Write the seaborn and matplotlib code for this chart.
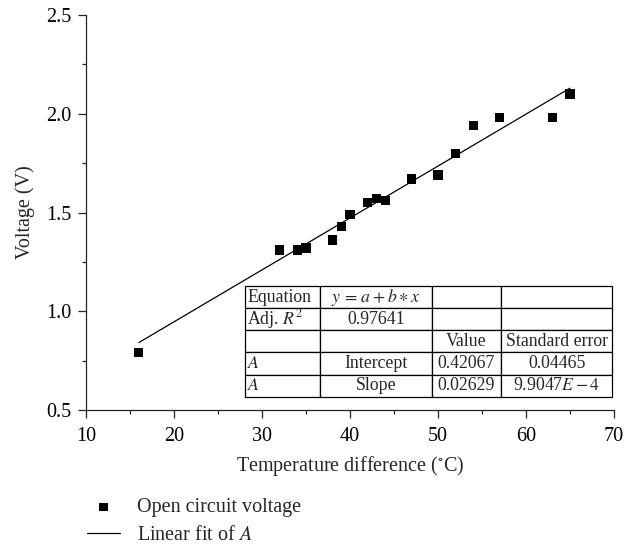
import numpy as np
import pandas as pd
import matplotlib
matplotlib.use("Agg")
import matplotlib.pyplot as plt
import seaborn as sns

# ---- data ----
temp_diff = [16, 32, 34, 35, 38, 39, 40, 42, 43, 44, 47, 50, 52, 54, 57, 63, 65]
voltage = [0.79, 1.31, 1.31, 1.32, 1.36, 1.43, 1.49, 1.55, 1.57, 1.56,
           1.67, 1.69, 1.80, 1.94, 1.98, 1.98, 2.10]
fit_intercept = 0.42067
fit_slope = 0.02629
fit_range = [16, 65]
x_ticks = [10, 20, 30, 40, 50, 60, 70]
y_ticks = [0.5, 1.0, 1.5, 2.0, 2.5]
table_rows = [
    ["Equation", "$y\\,=\\,a+b\\ast x$", "", ""],
    ["Adj. $R^2$", "0.97641", "", ""],
    ["", "", "Value", "Standard error"],
    ["$A$", "Intercept", "0.42067", "0.04465"],
    ["$A$", "Slope", "0.02629", "9.9047$E-4$"],
]
legend_labels = ["Open circuit voltage", "Linear fit of $A$"]

sns.set_style("ticks")
plt.rcParams["font.family"] = ["Liberation Serif", "DejaVu Serif"]
plt.rcParams["mathtext.fontset"] = "stix"

FS = 14.5

fig = plt.figure(figsize=(6.25, 5.48), dpi=100)
ax = fig.add_axes([86 / 625, 1 - 410 / 548, (614 - 86) / 625, (410 - 15) / 548])

df = pd.DataFrame({"x": temp_diff, "y": voltage})
fx = np.array(fit_range, dtype=float)
fit_df = pd.DataFrame({"x": fx, "y": fit_intercept + fit_slope * fx})

sns.scatterplot(data=df, x="x", y="y", marker="s", s=45, color="black",
                edgecolor="none", ax=ax, label=legend_labels[0], zorder=3)
sns.lineplot(data=fit_df, x="x", y="y", color="black", linewidth=0.9,
             ax=ax, label=legend_labels[1], zorder=2)

ax.set_xlim(10, 70)
ax.set_ylim(0.5, 2.5)
ax.set_xticks(x_ticks)
ax.set_yticks(y_ticks)
ax.set_xticks([15, 25, 35, 45, 55, 65], minor=True)
ax.set_yticks([0.75, 1.25, 1.75, 2.25], minor=True)
ax.yaxis.set_major_formatter(matplotlib.ticker.FormatStrFormatter("%.1f"))
for s in ["top", "right"]:
    ax.spines[s].set_visible(False)
for s in ["left", "bottom"]:
    ax.spines[s].set_linewidth(0.9)
    ax.spines[s].set_color("#222222")
ax.tick_params(which="major", direction="out", length=5.8, width=0.9,
               labelsize=FS, colors="#222222", labelcolor="black")
ax.tick_params(axis="x", which="major", pad=6.5)
ax.tick_params(axis="y", which="major", pad=5)
ax.tick_params(which="minor", direction="out", length=3, width=0.9, colors="#222222")
ax.set_xlabel("Temperature difference ($^{\\circ}$C)", fontsize=FS, labelpad=6)
ax.set_ylabel("Voltage (V)", fontsize=FS, labelpad=8)

# table
col_w = [0.1413, 0.2122, 0.131, 0.211]
tbl = ax.table(cellText=table_rows, colWidths=col_w,
               bbox=[0.3015, 0.034, 0.6955, 0.279], cellLoc="center")
tbl.auto_set_font_size(False)
tbl.set_fontsize(12.8)
for (r, c), cell in tbl.get_celld().items():
    cell.set_edgecolor("black")
    cell.set_linewidth(0.9)
    cell.set_facecolor("white")
    if c == 0:
        cell.get_text().set_ha("left")
        cell.PAD = 0.03
tbl.set_zorder(4)

# legend below the axes
handles, labels = ax.get_legend_handles_labels()
ax.get_legend().remove()
fig.legend(handles, labels, loc="upper left", bbox_to_anchor=(87 / 625, 1 - 498 / 548),
           frameon=False, fontsize=FS, borderpad=0, borderaxespad=0,
           handlelength=1.65, handletextpad=0.85, labelspacing=0.45, markerscale=0.9)

fig.savefig("out.png", dpi=100)
